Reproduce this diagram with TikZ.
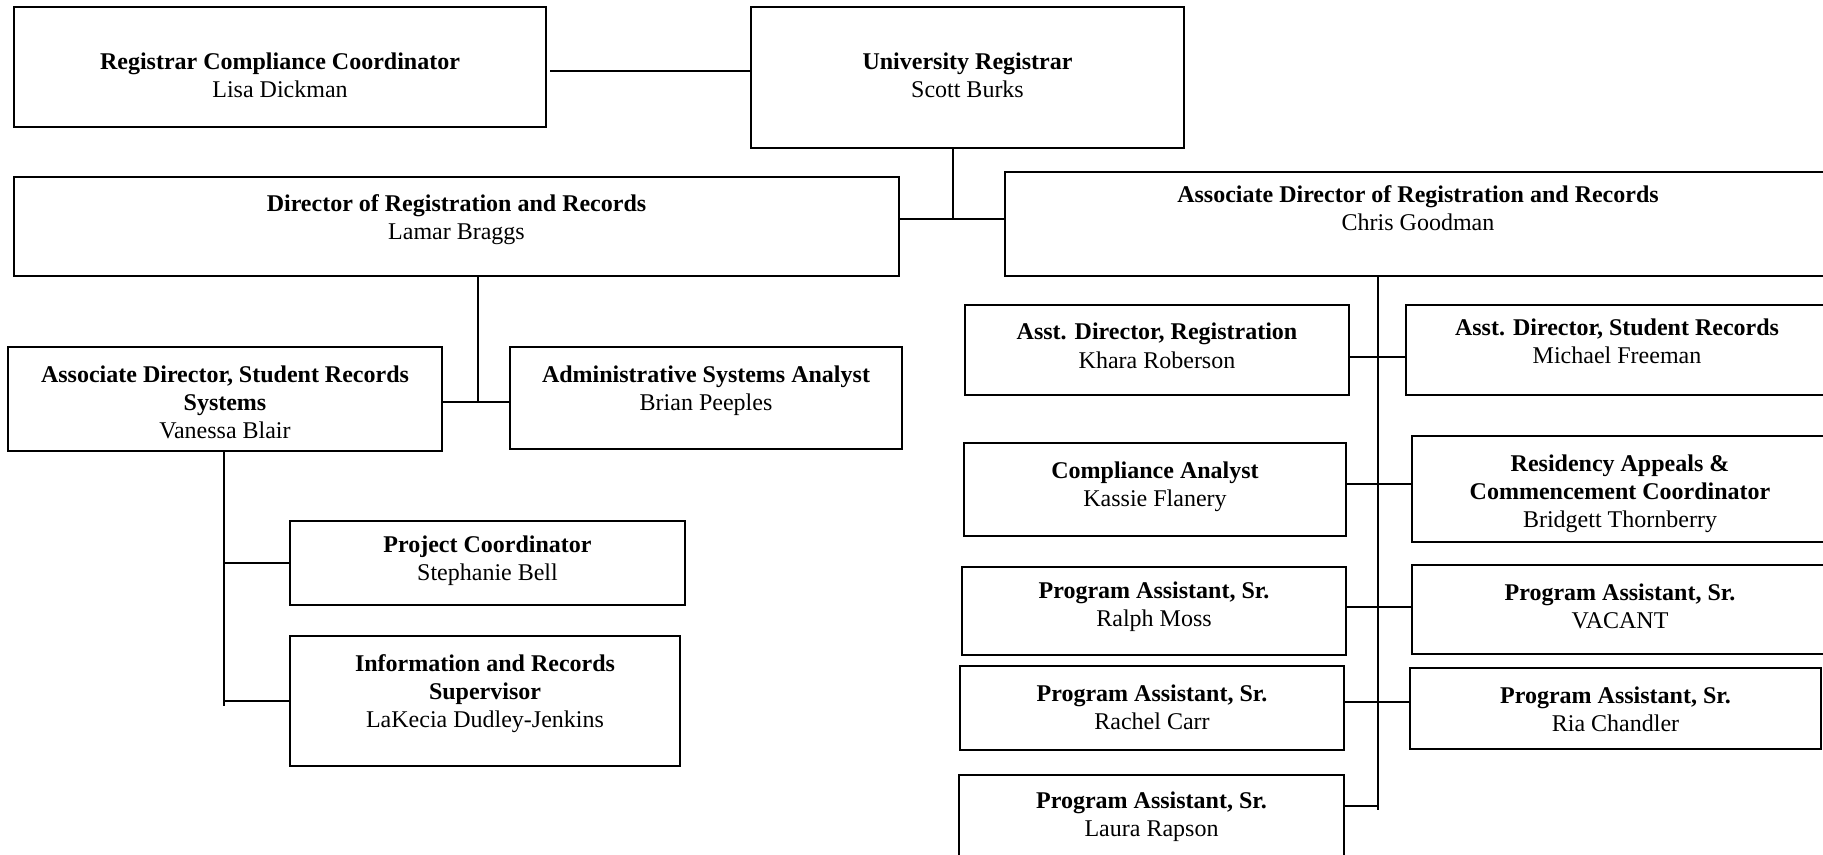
\documentclass[tikz,border=0pt]{standalone}
\usepackage{fontspec}
\setmainfont{Liberation Serif}
\usetikzlibrary{fit}
\tikzset{
	box/.style={draw=black, line width=1pt, inner sep=0pt},
	boxtext/.style={anchor=north, align=center, inner sep=0pt, font=\fontsize{12}{14}\selectfont},
	link/.style={draw=black, line width=0.9pt},
}
\newcommand{\jobtitle}[1]{\strut\textbf{#1}}

\begin{document}
\begin{tikzpicture}[x=0.5pt, y=-0.5pt]
			\useasboundingbox (0, 0) rectangle (1823, 855);
			\clip (0, 0) rectangle (1823, 855);
			\node [box, fit={(14, 7) (546, 127)}] (lisa) {};
			\node [box, fit={(751, 7) (1184, 148)}] (scott) {};
			\node [box, fit={(14, 177) (899, 276)}] (lamar) {};
			\node [box, fit={(1005, 172) (1831, 276)}] (chris) {};
			\node [box, fit={(8, 347) (442, 451)}] (vanessa) {};
			\node [box, fit={(510, 347) (902, 449)}] (brian) {};
			\node [box, fit={(290, 521) (685, 605)}] (stephanie) {};
			\node [box, fit={(290, 636) (680, 766)}] (lakecia) {};
			\node [box, fit={(965, 305) (1349, 395)}] (khara) {};
			\node [box, fit={(1406, 305) (1828, 395)}] (michael) {};
			\node [box, fit={(964, 443) (1346, 536)}] (kassie) {};
			\node [box, fit={(1412, 436) (1828, 542)}] (bridgett) {};
			\node [box, fit={(962, 567) (1346, 655)}] (ralph) {};
			\node [box, fit={(1412, 565) (1828, 654)}] (vacant) {};
			\node [box, fit={(960, 666) (1344, 750)}] (rachel) {};
			\node [box, fit={(1410, 668) (1821, 749)}] (ria) {};
			\node [box, fit={(959, 775) (1344, 870)}] (laura) {};

			\node [boxtext] (lisatext) at ([yshift=-22pt]lisa.north) {\jobtitle{Registrar Compliance Coordinator}\\Lisa Dickman};
			\node [boxtext] (scotttext) at ([yshift=-22pt]scott.north) {\jobtitle{University Registrar}\\Scott Burks};
			\node [boxtext] (lamartext) at ([yshift=-8pt]lamar.north) {\jobtitle{Director of Registration and Records}\\Lamar Braggs};
			\node [boxtext] (christext) at ([yshift=-6pt]chris.north) {\jobtitle{Associate Director of Registration and Records}\\Chris Goodman};
			\node [boxtext] (vanessatext) at ([yshift=-8pt]vanessa.north) {\jobtitle{Associate Director, Student Records}\\\textbf{Systems}\\Vanessa Blair};
			\node [boxtext] (briantext) at ([yshift=-8pt]brian.north) {\jobtitle{Administrative Systems Analyst}\\Brian Peeples};
			\node [boxtext] (stephanietext) at ([yshift=-6pt]stephanie.north) {\jobtitle{Project Coordinator}\\Stephanie Bell};
			\node [boxtext] (lakeciatext) at ([yshift=-8pt]lakecia.north) {\jobtitle{Information and Records}\\\textbf{Supervisor}\\LaKecia Dudley-Jenkins};
			\node [boxtext] (kharatext) at ([yshift=-8pt]khara.north) {\jobtitle{Asst. Director, Registration}\\Khara Roberson};
			\node [boxtext] (michaeltext) at ([yshift=-6pt]michael.north) {\jobtitle{Asst. Director, Student Records}\\Michael Freeman};
			\node [boxtext] (kassietext) at ([yshift=-8pt]kassie.north) {\jobtitle{Compliance Analyst}\\Kassie Flanery};
			\node [boxtext] (bridgetttext) at ([yshift=-8pt]bridgett.north) {\jobtitle{Residency Appeals \&}\\\textbf{Commencement Coordinator}\\Bridgett Thornberry};
			\node [boxtext] (ralphtext) at ([yshift=-6pt]ralph.north) {\jobtitle{Program Assistant, Sr.}\\Ralph Moss};
			\node [boxtext] (vacanttext) at ([yshift=-8pt]vacant.north) {\jobtitle{Program Assistant, Sr.}\\VACANT};
			\node [boxtext] (racheltext) at ([yshift=-8pt]rachel.north) {\jobtitle{Program Assistant, Sr.}\\Rachel Carr};
			\node [boxtext] (riatext) at ([yshift=-8pt]ria.north) {\jobtitle{Program Assistant, Sr.}\\Ria Chandler};
			\node [boxtext] (lauratext) at ([yshift=-7pt]laura.north) {\jobtitle{Program Assistant, Sr.}\\Laura Rapson};

			\coordinate (lisajoint) at (550, 71);
			\coordinate (topjoint) at (953, 219);
			\coordinate (lamarjoint) at (478, 402);
			\coordinate (vanessajoint) at (224, 706);
			\coordinate (chrisjoint) at (1378, 810);
			\coordinate (rowa) at (1378, 357);
			\coordinate (rowb) at (1378, 484);
			\coordinate (rowc) at (1378, 607);
			\coordinate (rowd) at (1378, 702);
			\coordinate (rowe) at (1378, 806);

			\draw [link] (lisajoint) -- (scott.west |- lisajoint);
			\draw [link] (scott.south -| topjoint) -- (topjoint);
			\draw [link] (lamar.east |- topjoint) -- (chris.west |- topjoint);
			\draw [link] (lamar.south -| lamarjoint) -- (lamarjoint);
			\draw [link] (vanessa.east |- lamarjoint) -- (brian.west |- lamarjoint);
			\draw [link] (vanessa.south -| vanessajoint) -- (vanessajoint);
			\draw [link] (vanessajoint |- stephanie.west) -- (stephanie.west);
			\draw [link] (vanessajoint |- lakecia.west) -- (lakecia.west);
			\draw [link] (chris.south -| chrisjoint) -- (chrisjoint);
			\draw [link] (khara.east |- rowa) -- (michael.west |- rowa);
			\draw [link] (kassie.east |- rowb) -- (bridgett.west |- rowb);
			\draw [link] (ralph.east |- rowc) -- (vacant.west |- rowc);
			\draw [link] (rachel.east |- rowd) -- (ria.west |- rowd);
			\draw [link] (laura.east |- rowe) -- (rowe);
		\end{tikzpicture}
\end{document}
